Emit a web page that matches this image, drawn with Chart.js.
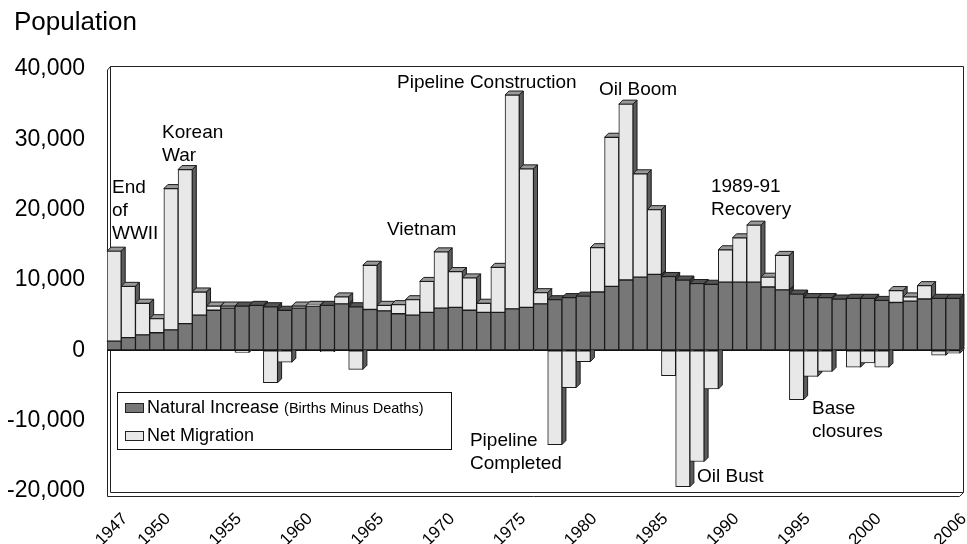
<!DOCTYPE html>
<html><head><meta charset="utf-8">
<script src="https://cdn.jsdelivr.net/npm/chart.js@4.4.1/dist/chart.umd.min.js"></script>
<style>html,body{margin:0;padding:0;background:#fff;}#wrap{width:967px;height:544px;position:relative;}</style>
</head><body><div id="wrap"><canvas id="c" width="967" height="544"></canvas></div>
<script>
const years = ['1947','1948','1949','1950','1951','1952','1953','1954','1955','1956',
  '1957','1958','1959','1960','1961','1962','1963','1964','1965','1966',
  '1967','1968','1969','1970','1971','1972','1973','1974','1975','1976',
  '1977','1978','1979','1980','1981','1982','1983','1984','1985','1986',
  '1987','1988','1989','1990','1991','1992','1993','1994','1995','1996',
  '1997','1998','1999','2000','2001','2002','2003','2004','2005','2006'];
const tickYears = ['1947','1950','1955','1960','1965','1970','1975','1980','1985','1990','1995','2000','2006'];
const naturalIncrease = [1300,1800,2200,2500,2900,3800,5000,5700,6000,6300,
  6400,6200,5700,6000,6300,6400,6600,6200,5800,5600,
  5200,5000,5400,6000,6100,5700,5400,5400,5900,6100,
  6600,7200,7500,7700,8300,9100,10000,10400,10800,10500,
  10000,9500,9400,9700,9700,9700,9000,8600,8000,7500,
  7500,7300,7400,7400,7100,6800,7000,7300,7400,7400];
const netMigration = [12800,7300,4500,2000,20100,21900,3300,600,300,-300,
  0,-4600,-1700,300,100,-200,1000,-2700,6300,800,
  1300,2200,4400,8000,5100,4600,1300,6400,30400,19700,
  1600,-13400,-5300,-1600,6300,21200,25000,14700,9200,-3600,
  -19400,-15800,-5500,4600,6300,8100,1400,4900,-7000,-3700,
  -3000,0,-2400,-1800,-2400,1700,600,1900,-700,-400];
const seriesNames = ['Natural Increase', 'Net Migration'];
const seriesNote = ['(Births Minus Deaths)', ''];
const yMin = -20000, yMax = 40000, yStep = 10000;
const noteText = [['End','of','WWII'],['Korean','War'],['Vietnam'],['Pipeline Construction'],['Oil Boom'],
  ['1989-91','Recovery'],['Pipeline','Completed'],['Oil Bust'],['Base','closures']];
const noteYear = [1946.85,1950.37,1966.19,1966.9,1981.11,1988.98,1972.03,1988.0,1996.09];
const noteValue = [23100,30900,17200,38100,37000,23200,-12900,-18000,-8300];

const FONT = '"Liberation Sans", Arial, sans-serif';
const faces = [
  {front:'#777777', top:'#555555', side:'#383838'},
  {front:'#e8e8e8', top:'#999999', side:'#5c5c5c'}
];
const D = 4;

const depthPlugin = {
  id: 'depth3d',
  beforeDraw(chart) {
    const ctx = chart.ctx, a = chart.chartArea;
    ctx.save();
    ctx.fillStyle = '#fff';
    ctx.fillRect(0, 0, chart.width, chart.height);
    ctx.fillStyle = '#000';
    ctx.font = '26px ' + FONT;
    ctx.textBaseline = 'middle';
    ctx.textAlign = 'left';
    ctx.fillText('Population', 14, 23);
    ctx.strokeStyle = '#222';
    ctx.lineWidth = 1;
    const L = a.left, R = a.right, T = a.top, B = a.bottom;
    ctx.beginPath();
    ctx.moveTo(L + 0.5, T + 1); ctx.lineTo(L + 3.5, T - 2.5); ctx.lineTo(R + 3.5, T - 2.5); ctx.lineTo(R + 3.5, B + 1.5);
    ctx.moveTo(L + 3.5, T - 2.5); ctx.lineTo(L + 3.5, B + 1.5); ctx.lineTo(R + 3.5, B + 1.5);
    ctx.moveTo(L + 0.5, T + 1); ctx.lineTo(L + 0.5, B + 5.5); ctx.lineTo(R - 0.5, B + 5.5); ctx.lineTo(R + 3.5, B + 1.5);
    ctx.stroke();
    ctx.restore();
  },
  beforeDatasetsDraw(chart) {
    const ctx = chart.ctx;
    const metas = [chart.getDatasetMeta(0), chart.getDatasetMeta(1)];
    ctx.save();
    ctx.lineWidth = 1;
    ctx.strokeStyle = '#1a1a1a';
    for (let i = 0; i < years.length; i++) {
      metas.forEach((meta, k) => {
        const el = meta.data[i];
        if (!el) return;
        const p = el.getProps(['x', 'y', 'base', 'width'], true);
        if (Math.abs(p.base - p.y) < 0.5) return;
        const l = p.x - p.width / 2, r = p.x + p.width / 2;
        const top = Math.min(p.y, p.base), bot = Math.max(p.y, p.base);
        if (p.y < p.base) {
          ctx.beginPath();
          ctx.moveTo(l, top); ctx.lineTo(l + D, top - D); ctx.lineTo(r + D, top - D); ctx.lineTo(r, top); ctx.closePath();
          ctx.fillStyle = faces[k].top; ctx.fill(); ctx.stroke();
        }
        ctx.beginPath();
        ctx.moveTo(r, top); ctx.lineTo(r + D, top - D); ctx.lineTo(r + D, bot - D); ctx.lineTo(r, bot); ctx.closePath();
        ctx.fillStyle = faces[k].side; ctx.fill(); ctx.stroke();
      });
    }
    ctx.restore();
  },
  afterDatasetsDraw(chart) {
    const ctx = chart.ctx, xs = chart.scales.x, ys = chart.scales.y;
    ctx.save();
    ctx.fillStyle = '#000';
    ctx.font = '19px ' + FONT;
    ctx.textAlign = 'left';
    ctx.textBaseline = 'middle';
    noteText.forEach((lines, n) => {
      const px = xs.getPixelForValue(noteYear[n] - Number(years[0]));
      const py = ys.getPixelForValue(noteValue[n]);
      lines.forEach((t, j) => ctx.fillText(t, px, py + j * 23));
    });
    const bx = 117, by = 392, bw = 334, bh = 57;
    ctx.fillStyle = '#fff';
    ctx.fillRect(bx, by, bw, bh);
    ctx.strokeStyle = '#111';
    ctx.strokeRect(bx + 0.5, by + 0.5, bw, bh);
    seriesNames.forEach((name, k) => {
      const cy = by + 16 + k * 28;
      ctx.fillStyle = faces[k].front;
      ctx.fillRect(125.5, cy - 4.5, 18, 9);
      ctx.strokeStyle = '#222';
      ctx.strokeRect(125.5, cy - 4.5, 18, 9);
      ctx.fillStyle = '#000';
      ctx.font = '18px ' + FONT;
      ctx.fillText(name, 147, cy);
      if (seriesNote[k]) {
        const w = ctx.measureText(name + ' ').width;
        ctx.font = '14.5px ' + FONT;
        ctx.fillText(seriesNote[k], 147 + w, cy + 1);
      }
    });
    ctx.restore();
  }
};

new Chart(document.getElementById('c'), {
  type: 'bar',
  data: {
    labels: years,
    datasets: [
      {label: seriesNames[0], data: naturalIncrease, backgroundColor: faces[0].front, borderColor: '#1a1a1a', borderWidth: 1, borderSkipped: false},
      {label: seriesNames[1], data: netMigration, backgroundColor: faces[1].front, borderColor: '#1a1a1a', borderWidth: 1, borderSkipped: false}
    ]
  },
  options: {
    responsive: false,
    animation: false,
    devicePixelRatio: 1,
    layout: {padding: {top: 69, right: 7, bottom: 0, left: 0}},
    datasets: {bar: {categoryPercentage: 1, barPercentage: 1}},
    plugins: {legend: {display: false}, title: {display: false}, tooltip: {enabled: false}},
    scales: {
      x: {
        stacked: true,
        grid: {display: false},
        border: {display: false},
        ticks: {
          autoSkip: false, maxRotation: 45, minRotation: 45, labelOffset: 11, padding: 10,
          color: '#000', font: {family: FONT, size: 17},
          callback: function(v, i) { return tickYears.includes(years[i]) ? years[i] : ''; }
        },
        afterFit(s) { s.height = 53; s.paddingLeft = 0; s.paddingRight = 0; }
      },
      y: {
        stacked: true,
        min: yMin, max: yMax,
        border: {display: false},
        grid: {drawTicks: false, color: c => (c.tick && c.tick.value === 0) ? '#111' : 'rgba(0,0,0,0)'},
        ticks: {
          stepSize: yStep, padding: 22, color: '#000', font: {family: FONT, size: 23},
          callback: v => v.toLocaleString('en-US')
        },
        afterFit(s) { s.width = 107; s.paddingTop = 0; s.paddingBottom = 0; }
      }
    }
  },
  plugins: [depthPlugin]
});
</script></body></html>
